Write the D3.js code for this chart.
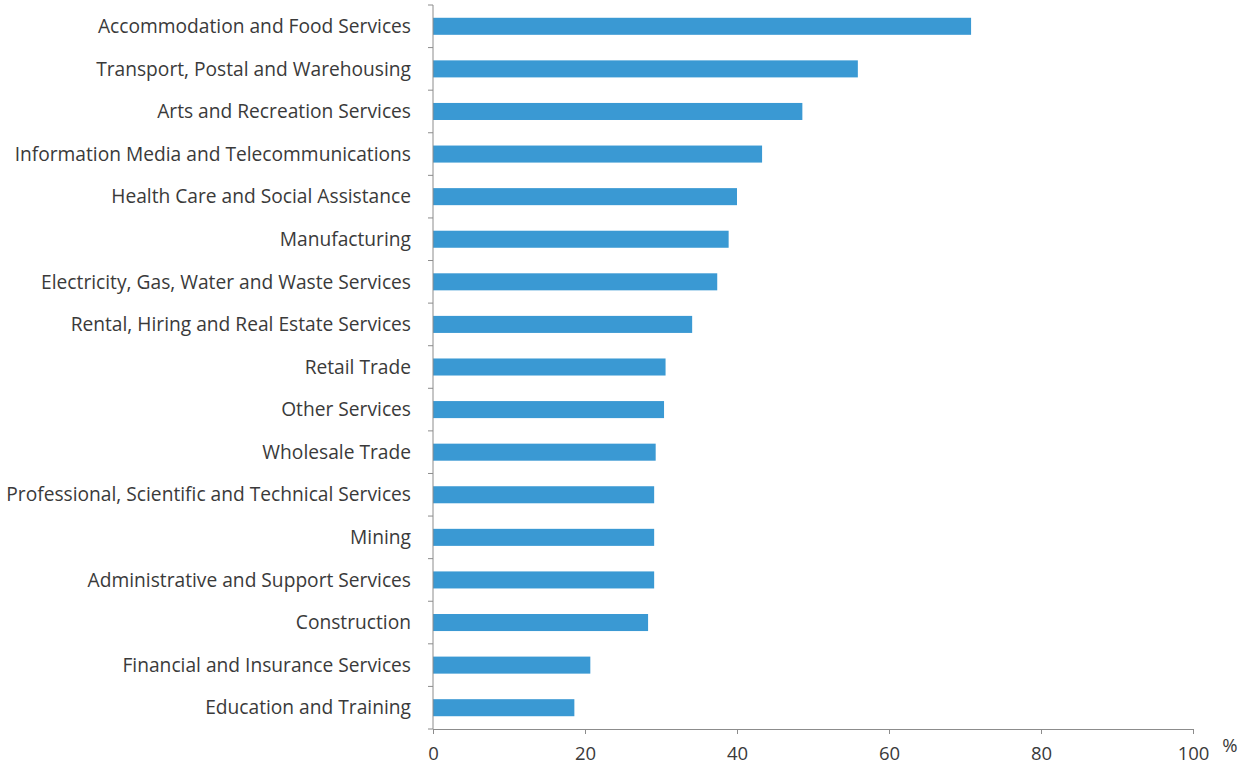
<!DOCTYPE html>
<html><head><meta charset="utf-8">
<script src="https://cdn.jsdelivr.net/npm/d3@7"></script>
<style>body{margin:0;background:#fff}svg{display:block}</style>
</head><body>
<svg id="c" width="1240" height="768"></svg>
<script>
const categories = ["Accommodation and Food Services","Transport, Postal and Warehousing","Arts and Recreation Services","Information Media and Telecommunications","Health Care and Social Assistance","Manufacturing","Electricity, Gas, Water and Waste Services","Rental, Hiring and Real Estate Services","Retail Trade","Other Services","Wholesale Trade","Professional, Scientific and Technical Services","Mining","Administrative and Support Services","Construction","Financial and Insurance Services","Education and Training"];
const values = [70.8, 55.9, 48.6, 43.3, 40.0, 38.9, 37.4, 34.1, 30.6, 30.4, 29.3, 29.1, 29.1, 29.1, 28.3, 20.7, 18.6];
const xTicks = [0, 20, 40, 60, 80, 100];
const unitLabel = "%";

(function(){
const svg = d3.select("#c");
const mLeft = 433, mRight = 1193, mTop = 5, mBottom = 729;
const x = d3.scaleLinear().domain([0, 100]).range([mLeft, mRight]);
const y = d3.scaleBand().domain(categories).range([mTop, mBottom]).paddingInner(0.6).paddingOuter(0.3);
const font = "'Open Sans', sans-serif";
const fs = 19.2;
const axisColor = "#8c8c8c", textColor = "#3a3a3a";

svg.selectAll("rect.bar").data(categories).enter().append("rect")
  .attr("class","bar")
  .attr("x", x(0)).attr("y", d => y(d))
  .attr("width", (d,i) => x(values[i]) - x(0))
  .attr("height", y.bandwidth())
  .attr("fill", "#3a99d3");

const xa = svg.append("g").attr("transform", `translate(0,${mBottom})`)
  .call(d3.axisBottom(x).tickValues(xTicks).tickSizeInner(5).tickSizeOuter(5).tickPadding(13));
xa.select(".domain").attr("stroke", axisColor);
xa.selectAll(".tick line").attr("stroke", axisColor);
xa.selectAll("text").attr("font-family", font).attr("font-size", 18.5).attr("fill", textColor);

const step = (mBottom - mTop) / categories.length;
const bounds = d3.range(categories.length + 1).map(i => mTop + i * step);
svg.append("line").attr("x1", mLeft).attr("x2", mLeft).attr("y1", mTop).attr("y2", mBottom).attr("stroke", axisColor);
svg.selectAll("line.yt").data(bounds).enter().append("line").attr("class","yt")
  .attr("x1", mLeft - 5).attr("x2", mLeft).attr("y1", d => d).attr("y2", d => d).attr("stroke", axisColor);
svg.selectAll("text.cat").data(categories).enter().append("text").attr("class","cat")
  .attr("x", mLeft - 22).attr("y", d => y(d) + y.bandwidth()/2)
  .attr("dy", "0.35em").attr("text-anchor", "end")
  .attr("font-family", font).attr("font-size", fs).attr("fill", textColor)
  .text(d => d);

svg.append("text").attr("x", 1230).attr("y", 746).attr("dy","0.35em").attr("text-anchor","middle")
  .attr("font-family", font).attr("font-size", 18.5).attr("fill", textColor).text(unitLabel);
})();
</script>
</body></html>
